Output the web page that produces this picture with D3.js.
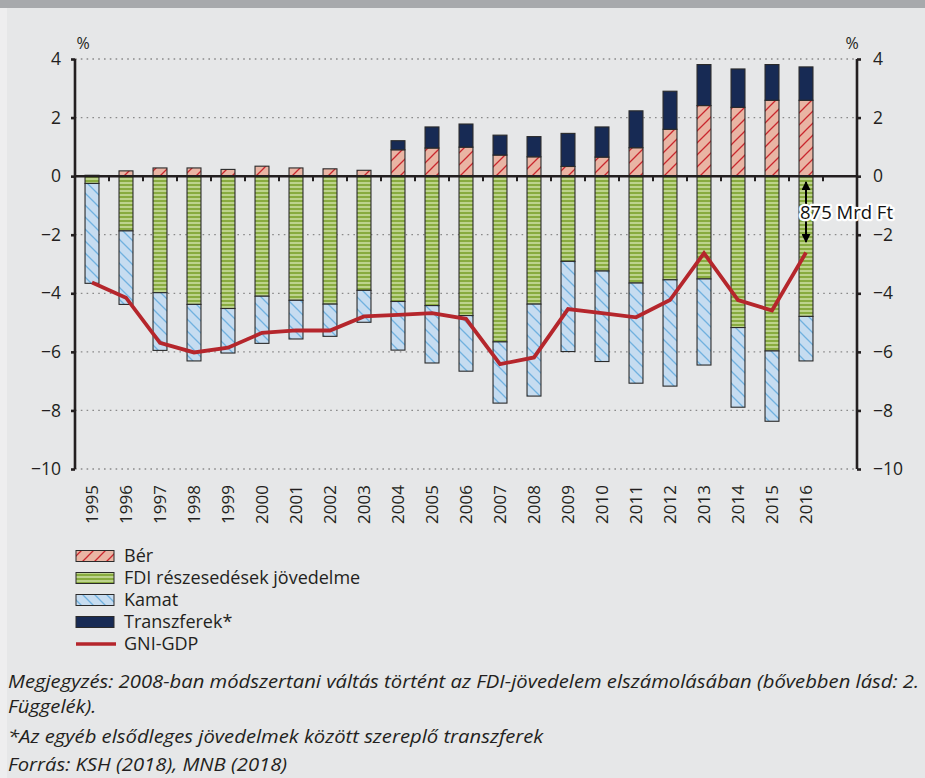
<!DOCTYPE html>
<html>
<head>
<meta charset="utf-8">
<script src="https://cdn.jsdelivr.net/npm/d3@7"></script>
<style>
body { margin: 0; background: #fff; }
svg { display: block; font-family: "Open Sans", sans-serif; }
</style>
</head>
<body>
<script>
// data (percent of GDP)
var years = ['1995', '1996', '1997', '1998', '1999', '2000', '2001', '2002', '2003', '2004', '2005',
  '2006', '2007', '2008', '2009', '2010', '2011', '2012', '2013', '2014', '2015', '2016'];
var ber = [0.03, 0.18, 0.28, 0.28, 0.23, 0.34, 0.28, 0.25, 0.20, 0.90, 0.96,
  0.99, 0.72, 0.66, 0.33, 0.65, 0.97, 1.60, 2.41, 2.35, 2.59, 2.59];
var transzfer = [0, 0, 0, 0, 0, 0, 0, 0, 0, 0.31, 0.72,
  0.79, 0.68, 0.69, 1.13, 1.03, 1.26, 1.30, 1.40, 1.31, 1.22, 1.14];
var fdi = [-0.25, -1.87, -3.98, -4.38, -4.52, -4.10, -4.24, -4.37, -3.90, -4.28, -4.42,
  -4.76, -5.66, -4.37, -2.91, -3.24, -3.65, -3.54, -3.51, -5.17, -5.97, -4.79];
var kamat = [-3.41, -2.51, -1.97, -1.93, -1.52, -1.61, -1.32, -1.10, -1.09, -1.66, -1.96,
  -1.90, -2.09, -3.14, -3.08, -3.09, -3.42, -3.63, -2.94, -2.72, -2.40, -1.52];
var gniGdp = [-3.63, -4.15, -5.69, -6.02, -5.86, -5.35, -5.27, -5.27, -4.79, -4.74, -4.68,
  -4.87, -6.42, -6.19, -4.54, -4.68, -4.82, -4.23, -2.63, -4.23, -4.59, -2.61];
var yTicks = [4, 2, 0, -2, -4, -6, -8, -10];

var legendLabels = ['Bér', 'FDI részesedések jövedelme', 'Kamat', 'Transzferek*', 'GNI-GDP'];
var notes = [
  'Megjegyzés: 2008-ban módszertani váltás történt az FDI-jövedelem elszámolásában (bővebben lásd: 2.',
  'Függelék).',
  '*Az egyéb elsődleges jövedelmek között szereplő transzferek',
  'Forrás: KSH (2018), MNB (2018)'
];
var annotText = '875 Mrd Ft';
var annotFrom = -0.2, annotTo = -2.25;

var W = 925, H = 778;
var pLeft = 75, pRight = 857, pTop = 59, pBottom = 469;

var svg = d3.select('body').append('svg')
  .attr('width', W)
  .attr('height', H);

// panel background
svg.append('rect').attr('width', W).attr('height', H).attr('fill', '#eeeeef');
svg.append('rect').attr('x', 7).attr('y', 0).attr('width', W - 7).attr('height', H).attr('fill', '#e6e7e8');
svg.append('rect').attr('x', 0).attr('y', 0).attr('width', W).attr('height', 8).attr('fill', '#a7a9ac');

// patterns
var defs = svg.append('defs');

var pBer = defs.append('pattern').attr('id', 'pBer')
  .attr('patternUnits', 'userSpaceOnUse').attr('width', 12).attr('height', 12);
pBer.append('rect').attr('width', 12).attr('height', 12).attr('fill', '#e9b5a4');
pBer.append('path').attr('d', 'M0,12 L12,0 M-3,3 L3,-3 M9,15 L15,9')
  .attr('stroke', '#c9272e').attr('stroke-width', 1.3);

var pKamat = defs.append('pattern').attr('id', 'pKamat')
  .attr('patternUnits', 'userSpaceOnUse').attr('width', 12).attr('height', 12);
pKamat.append('rect').attr('width', 12).attr('height', 12).attr('fill', '#c6dcf0');
pKamat.append('path').attr('d', 'M0,0 L12,12 M-3,9 L3,15 M9,-3 L15,3')
  .attr('stroke', '#70b1df').attr('stroke-width', 1.3);

var pFdi = defs.append('pattern').attr('id', 'pFdi')
  .attr('patternUnits', 'userSpaceOnUse').attr('width', 8).attr('height', 4);
pFdi.append('rect').attr('width', 8).attr('height', 4).attr('fill', '#88ab3f');
pFdi.append('rect').attr('y', 2.2).attr('width', 8).attr('height', 1.6).attr('fill', '#cadd9f');

var fills = { ber: 'url(#pBer)', transzfer: '#172a54', fdi: 'url(#pFdi)', kamat: 'url(#pKamat)' };

// scales
var x = d3.scaleBand().domain(years).range([pLeft, 823]).paddingInner(0.59).paddingOuter(0.295);
var y = d3.scaleLinear().domain([-10, 4]).range([pBottom, pTop]);

// grid
svg.append('g').selectAll('line').data(yTicks.filter(function(d) { return d !== 0; }))
  .enter().append('line')
  .attr('x1', pLeft).attr('x2', pRight)
  .attr('y1', function(d) { return y(d); }).attr('y2', function(d) { return y(d); })
  .attr('stroke', '#8a8a8a').attr('stroke-width', 1.3).attr('stroke-dasharray', '1.6,4.2');

// stacked bars
var rows = years.map(function(yr, i) {
  return { year: yr, ber: ber[i], transzfer: transzfer[i], fdi: fdi[i], kamat: kamat[i] };
});
var stack = d3.stack().keys(['ber', 'transzfer', 'fdi', 'kamat']).offset(d3.stackOffsetDiverging);
var series = stack(rows);

svg.append('g').selectAll('g').data(series).enter().append('g')
  .attr('fill', function(s) { return fills[s.key]; })
  .selectAll('rect').data(function(s) { return s.filter(function(d) { return d[1] - d[0] !== 0; }); })
  .enter().append('rect')
  .attr('x', function(d) { return x(d.data.year); })
  .attr('width', x.bandwidth())
  .attr('y', function(d) { return y(d[1]); })
  .attr('height', function(d) { return y(d[0]) - y(d[1]); })
  .attr('stroke', '#2a2a2a').attr('stroke-width', 1.1);

// zero line and x ticks
svg.append('line').attr('x1', pLeft).attr('x2', pRight).attr('y1', y(0)).attr('y2', y(0))
  .attr('stroke', '#231f20').attr('stroke-width', 2.5);
svg.append('g').selectAll('line').data(years).enter().append('line')
  .attr('x1', function(d) { return x(d) + x.bandwidth() / 2 + x.step() / 2; })
  .attr('x2', function(d) { return x(d) + x.bandwidth() / 2 + x.step() / 2; })
  .attr('y1', y(0)).attr('y2', y(0) + 5)
  .attr('stroke', '#231f20').attr('stroke-width', 2);

// GNI-GDP line
var line = d3.line()
  .x(function(d, i) { return x(years[i]) + x.bandwidth() / 2; })
  .y(function(d) { return y(d); });
svg.append('path').datum(gniGdp).attr('d', line)
  .attr('fill', 'none').attr('stroke', '#b5262c').attr('stroke-width', 3.8)
  .attr('stroke-linejoin', 'miter');

// axes
var fmt = d3.format('');
var axL = svg.append('g').attr('transform', 'translate(' + pLeft + ',0)')
  .call(d3.axisLeft(y).tickValues(yTicks).tickFormat(fmt).tickSize(4).tickPadding(10));
var axR = svg.append('g').attr('transform', 'translate(' + pRight + ',0)')
  .call(d3.axisRight(y).tickValues(yTicks).tickFormat(fmt).tickSize(4).tickPadding(12));
[axL, axR].forEach(function(ax) {
  ax.select('.domain').attr('stroke', '#231f20').attr('stroke-width', 2.6)
    .attr('d', 'M0,' + pTop + 'V' + pBottom);
  ax.selectAll('.tick line').attr('stroke', '#231f20').attr('stroke-width', 2.6);
  ax.selectAll('.tick text').attr('fill', '#231f20').attr('font-size', 17.5)
    .attr('font-family', '"Open Sans", sans-serif');
});

svg.append('text').attr('x', 83).attr('y', 49).attr('text-anchor', 'middle')
  .attr('font-size', 16).attr('fill', '#231f20').text('%');
svg.append('text').attr('x', 852).attr('y', 49).attr('text-anchor', 'middle')
  .attr('font-size', 16).attr('fill', '#231f20').text('%');

// year labels
svg.append('g').selectAll('text').data(years).enter().append('text')
  .attr('transform', function(d) {
    return 'translate(' + (x(d) + x.bandwidth() / 2) + ',485) rotate(-90)';
  })
  .attr('text-anchor', 'end').attr('dy', '0.35em')
  .attr('font-size', 17).attr('fill', '#231f20')
  .text(function(d) { return d; });

// annotation
var ax0 = x('2016') + x.bandwidth() / 2;
defs.append('marker').attr('id', 'arr')
  .attr('viewBox', '0 0 10 10').attr('refX', 9).attr('refY', 5)
  .attr('markerWidth', 5).attr('markerHeight', 4.5).attr('orient', 'auto-start-reverse')
  .append('path').attr('d', 'M0,0 L10,5 L0,10 Z').attr('fill', '#000');
svg.append('line').attr('x1', ax0).attr('x2', ax0)
  .attr('y1', y(annotFrom)).attr('y2', y(annotTo))
  .attr('stroke', '#000').attr('stroke-width', 2)
  .attr('marker-start', 'url(#arr)').attr('marker-end', 'url(#arr)');
svg.append('text').attr('x', ax0 - 6).attr('y', y((annotFrom + annotTo) / 2) + 6.5)
  .attr('font-size', 18.5).attr('fill', '#111')
  .attr('stroke', '#fff').attr('stroke-width', 4.5).attr('stroke-linejoin', 'round')
  .attr('paint-order', 'stroke')
  .text(annotText);

// legend
var leg = svg.append('g').attr('transform', 'translate(76,556)');
var legFills = [fills.ber, fills.fdi, fills.kamat, fills.transzfer];
var items = leg.selectAll('g').data(legendLabels).enter().append('g')
  .attr('transform', function(d, i) { return 'translate(0,' + (i * 22) + ')'; });
items.filter(function(d, i) { return i < 4; }).append('rect')
  .attr('x', 0).attr('y', -5.5).attr('width', 38).attr('height', 11)
  .attr('fill', function(d, i) { return legFills[i]; })
  .attr('stroke', '#2a2a2a').attr('stroke-width', 1);
items.filter(function(d, i) { return i === 4; }).append('line')
  .attr('x1', 0).attr('x2', 40).attr('y1', 0).attr('y2', 0)
  .attr('stroke', '#b5262c').attr('stroke-width', 3.5);
items.append('text').attr('x', 48).attr('dy', '0.35em')
  .attr('font-size', 18).attr('fill', '#231f20')
  .text(function(d) { return d; });

// notes
var noteY = [688, 713, 743, 771];
var nt = svg.append('g').selectAll('text').data(notes).enter().append('text')
  .attr('x', 0).attr('y', function(d, i) { return noteY[i]; })
  .attr('font-size', 17.5).attr('font-style', 'italic').attr('fill', '#231f20')
  .text(function(d) { return d; });
var w0 = nt.node().getComputedTextLength();
var sx = 912 / w0;
nt.attr('transform', 'translate(8,0) scale(' + sx + ',1)');
</script>
</body>
</html>
